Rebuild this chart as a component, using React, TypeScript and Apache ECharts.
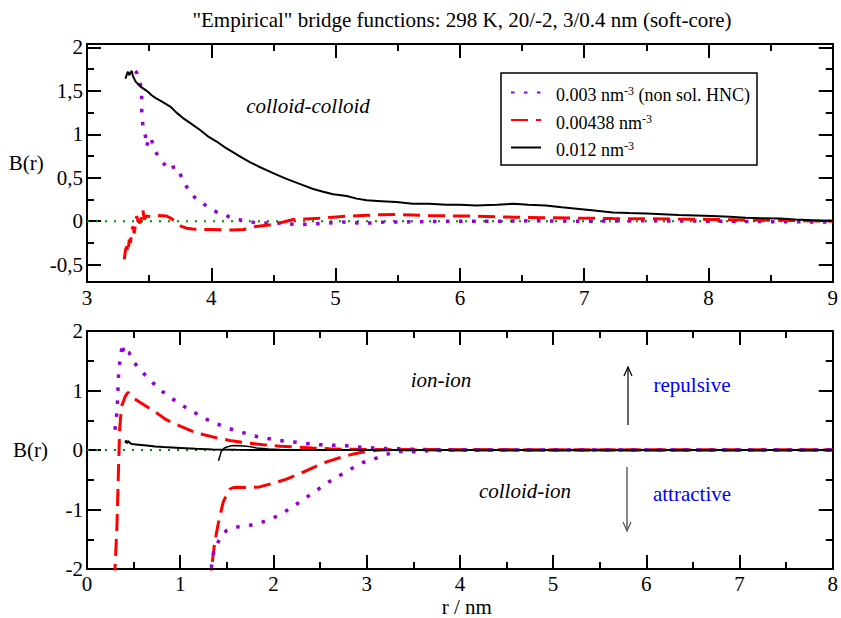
import React, { useEffect, useRef } from 'react';
import * as echarts from 'echarts';

const FONT = "'Liberation Serif', 'Times New Roman', serif";

const titleText = '"Empirical" bridge functions: 298 K, 20/-2, 3/0.4 nm (soft-core)';
const legendNames = ['0.003 nm-3 (non sol. HNC)', '0.00438 nm-3', '0.012 nm-3'];
const topYMajor = [-0.5, 0, 0.5, 1, 1.5, 2];
const topYMinor = [-0.25, 0.25, 0.75, 1.25, 1.75];

// reference line B(r) = 0
const zeroTop: [number, number][] = [[3, 0], [9, 0]];
const zeroBottom: [number, number][] = [[0, 0], [8, 0]];

// colloid-colloid, 0.003 nm^-3
const cc003: [number, number][] = [
  [3.39, 1.73], [3.40, 1.71], [3.42, 1.62], [3.43, 1.57], [3.44, 1.48], [3.44, 1.28], [3.45, 1.09],
  [3.47, 0.98], [3.48, 0.86], [3.50, 0.97], [3.52, 0.94], [3.53, 0.86], [3.56, 0.78], [3.59, 0.71],
  [3.62, 0.66], [3.65, 0.59], [3.69, 0.62], [3.72, 0.63], [3.75, 0.54], [3.77, 0.48], [3.80, 0.40],
  [3.83, 0.33], [3.87, 0.27], [3.91, 0.22], [3.97, 0.17], [4.01, 0.13], [4.05, 0.10], [4.08, 0.09],
  [4.12, 0.065], [4.16, 0.04], [4.20, 0.02], [4.30, 0.0], [4.39, -0.03], [4.49, -0.015], [4.60, -0.03],
  [4.71, -0.04], [4.83, -0.03], [4.95, -0.02], [5.06, -0.01], [5.18, -0.02], [5.30, -0.02], [5.40, -0.01],
  [5.51, -0.01], [5.70, -0.005], [6.0, 0.0], [6.3, 0.0], [6.6, 0.005], [7.0, 0.0], [7.5, 0.005],
  [8.0, 0.0], [8.5, -0.005], [9.0, -0.01],
];

// colloid-colloid, 0.00438 nm^-3
const cc00438: [number, number][] = [
  [3.30, -0.44], [3.31, -0.33], [3.32, -0.29], [3.33, -0.36], [3.34, -0.21], [3.35, -0.25], [3.36, -0.10],
  [3.37, -0.06], [3.38, -0.14], [3.40, 0.06], [3.41, 0.0], [3.43, -0.02], [3.44, 0.10], [3.45, 0.13],
  [3.46, 0.02], [3.48, 0.06], [3.52, 0.05], [3.57, 0.065], [3.64, 0.06], [3.68, 0.03], [3.72, -0.02],
  [3.76, -0.06], [3.80, -0.08], [3.85, -0.09], [3.91, -0.095], [4.01, -0.095], [4.10, -0.10], [4.17, -0.10],
  [4.26, -0.095], [4.36, -0.06], [4.49, -0.04], [4.58, -0.01], [4.66, 0.02], [4.76, 0.025], [4.87, 0.035],
  [4.98, 0.046], [5.10, 0.058], [5.25, 0.068], [5.37, 0.075], [5.49, 0.077], [5.62, 0.072], [5.75, 0.065],
  [5.95, 0.06], [6.13, 0.058], [6.43, 0.046], [6.70, 0.04], [6.96, 0.035], [7.23, 0.03], [7.50, 0.028],
  [7.76, 0.024], [8.03, 0.02], [8.30, 0.015], [8.57, 0.01], [8.80, 0.005], [9.0, 0.0],
];

// colloid-colloid, 0.012 nm^-3
const cc012: [number, number][] = [
  [3.31, 1.64], [3.32, 1.69], [3.33, 1.72], [3.34, 1.68], [3.35, 1.71], [3.36, 1.73], [3.37, 1.67],
  [3.39, 1.61], [3.41, 1.58], [3.43, 1.55], [3.46, 1.52], [3.49, 1.49], [3.52, 1.45], [3.55, 1.42],
  [3.60, 1.38], [3.67, 1.32], [3.72, 1.25], [3.77, 1.19], [3.84, 1.12], [3.91, 1.05], [3.97, 0.98],
  [4.04, 0.92], [4.11, 0.85], [4.18, 0.79], [4.25, 0.73], [4.31, 0.68], [4.38, 0.63], [4.44, 0.59],
  [4.52, 0.54], [4.60, 0.49], [4.71, 0.43], [4.82, 0.37], [4.90, 0.34], [4.98, 0.31], [5.09, 0.29],
  [5.17, 0.26], [5.25, 0.24], [5.37, 0.23], [5.49, 0.22], [5.62, 0.20], [5.75, 0.20], [5.89, 0.19],
  [6.00, 0.19], [6.13, 0.18], [6.30, 0.19], [6.43, 0.20], [6.55, 0.19], [6.69, 0.18], [6.82, 0.16],
  [6.96, 0.14], [7.10, 0.12], [7.23, 0.10], [7.36, 0.095], [7.50, 0.09], [7.63, 0.08], [7.76, 0.07],
  [7.90, 0.065], [8.03, 0.06], [8.17, 0.05], [8.30, 0.04], [8.43, 0.035], [8.57, 0.03], [8.70, 0.02],
  [8.83, 0.012], [9.0, 0.005],
];

// ion-ion
const ii003: [number, number][] = [
  [0.30, 0.34], [0.32, 0.62], [0.33, 0.90], [0.335, 1.18], [0.35, 1.46], [0.37, 1.68], [0.38, 1.79],
  [0.39, 1.66], [0.41, 1.72], [0.43, 1.66], [0.45, 1.64], [0.50, 1.48], [0.58, 1.33], [0.67, 1.19],
  [0.77, 1.03], [0.88, 0.90], [1.0, 0.77], [1.13, 0.65], [1.25, 0.54], [1.37, 0.455], [1.50, 0.37],
  [1.64, 0.31], [1.78, 0.24], [1.91, 0.20], [2.06, 0.16], [2.19, 0.14], [2.35, 0.11], [2.49, 0.09],
  [2.64, 0.08], [2.78, 0.07], [2.92, 0.05], [3.07, 0.035], [3.21, 0.025], [3.35, 0.02], [3.50, 0.012],
  [3.70, 0.005], [4.0, 0.0], [5.0, 0.0], [6.0, 0.0], [7.0, 0.0], [8.0, 0.0],
];
const ii00438: [number, number][] = [
  [0.295, -2.2], [0.30, -2.0], [0.32, -1.33], [0.335, -0.49], [0.35, 0.34], [0.37, 0.73], [0.41, 0.90],
  [0.44, 0.97], [0.50, 0.87], [0.57, 0.80], [0.64, 0.73], [0.75, 0.62], [0.85, 0.51], [1.0, 0.40],
  [1.17, 0.29], [1.35, 0.22], [1.53, 0.16], [1.71, 0.12], [1.89, 0.09], [2.07, 0.064], [2.25, 0.05],
  [2.42, 0.035], [2.60, 0.02], [2.80, 0.012], [3.0, 0.008], [3.3, 0.004], [3.6, 0.0], [5.0, 0.0],
  [6.0, 0.0], [7.0, 0.0], [8.0, 0.0],
];
const ii012: [number, number][] = [
  [0.41, 0.12], [0.42, 0.16], [0.43, 0.11], [0.44, 0.15], [0.46, 0.12], [0.48, 0.10], [0.55, 0.09],
  [0.64, 0.075], [0.73, 0.06], [0.82, 0.05], [1.0, 0.035], [1.17, 0.02], [1.35, 0.008], [1.6, 0.003],
  [2.0, 0.0], [8.0, 0.0],
];

// colloid-ion
const ci003: [number, number][] = [
  [1.33, -2.2], [1.335, -1.97], [1.35, -1.78], [1.37, -1.64], [1.39, -1.61], [1.42, -1.50], [1.46, -1.41],
  [1.50, -1.35], [1.57, -1.30], [1.71, -1.28], [1.85, -1.23], [1.99, -1.15], [2.11, -1.05], [2.23, -0.93],
  [2.35, -0.80], [2.48, -0.66], [2.59, -0.54], [2.73, -0.41], [2.84, -0.31], [2.96, -0.21], [3.08, -0.15],
  [3.21, -0.075], [3.33, -0.02], [3.44, -0.04], [3.57, -0.02], [3.70, -0.01], [4.0, 0.0], [5.0, 0.0],
  [6.0, 0.0], [7.0, 0.0], [8.0, 0.0],
];
const ci00438: [number, number][] = [
  [1.325, -2.3], [1.335, -2.0], [1.37, -1.55], [1.41, -1.22], [1.46, -0.88], [1.50, -0.74], [1.53, -0.66],
  [1.57, -0.63], [1.60, -0.625], [1.71, -0.63], [1.85, -0.62], [1.92, -0.59], [2.0, -0.56], [2.14, -0.49],
  [2.28, -0.40], [2.42, -0.30], [2.57, -0.20], [2.71, -0.13], [2.85, -0.07], [2.92, -0.045], [3.03, -0.02],
  [3.14, 0.0], [3.5, 0.01], [4.0, 0.005], [5.0, 0.0], [6.0, 0.0], [7.0, 0.0], [8.0, 0.0],
];
const ci012: [number, number][] = [
  [1.41, -0.18], [1.43, -0.08], [1.44, -0.02], [1.47, 0.03], [1.50, 0.05], [1.55, 0.07], [1.60, 0.075],
  [1.71, 0.065], [1.82, 0.035], [1.95, 0.015], [2.07, 0.008], [2.5, 0.002], [3.0, 0.0], [8.0, 0.0],
];

const PURPLE = '#9400D3';
const RED = '#FF0000';
const BLACK = '#000000';
const GREEN = '#008B00';

const purpleStyle = { color: PURPLE, width: 3.5, type: [3.5, 9.5] as number[] };
const redStyle = { color: RED, width: 3, type: [17, 8] as number[] };
const blackStyle = { color: BLACK, width: 2, type: 'solid' };
const greenStyle = { color: GREEN, width: 2, type: [2, 7] as number[] };

const frameLine = { show: true, onZero: false, lineStyle: { color: '#000', width: 2 } };
const tickStyle = { color: '#000', width: 2 };
const labelFont = { fontFamily: FONT, fontSize: 21, color: '#000' };

function xAx(grid: number, min: number, max: number, position: string, showLabel: boolean, extra: any = {}) {
  return {
    type: 'value', gridIndex: grid, min, max, interval: 1, position,
    axisLine: frameLine,
    axisTick: { show: true, inside: true, length: 14, lineStyle: tickStyle },
    minorTick: { show: true, splitNumber: 2, length: 7, lineStyle: tickStyle },
    splitLine: { show: false }, minorSplitLine: { show: false },
    axisLabel: { show: showLabel, ...labelFont, margin: grid === 0 ? 5 : 4 },
    ...extra,
  };
}

const yName = (shift: number) => ({
  name: 'B(r)', nameLocation: 'middle', nameRotate: 0, nameGap: 39,
  nameTextStyle: { ...labelFont, padding: [shift, 0, 0, 0] },
});

const textStyle = (text: string, fill: string, italic: boolean) => ({
  text, fill, font: `${italic ? 'italic ' : ''}21px ${FONT}`,
  align: 'center', verticalAlign: 'middle', textAlign: 'center', textVerticalAlign: 'middle',
});

function makeOption(): any {
  const line = (name: string, data: [number, number][], style: any, xi: number, yi: number) => ({
    type: 'line', name, data, xAxisIndex: xi, yAxisIndex: yi, symbol: 'none', showSymbol: false,
    lineStyle: style, itemStyle: { color: style.color }, clip: true, silent: true,
  });
  return {
    animation: false,
    backgroundColor: '#ffffff',
    title: {
      text: titleText, left: 462, top: 9, textAlign: 'center', padding: 0,
      textStyle: { fontFamily: FONT, fontSize: 21, lineHeight: 21, fontWeight: 'normal', color: '#000' },
    },
    legend: {
      data: legendNames, orient: 'vertical', left: 501, top: 73,
      backgroundColor: '#fff', borderColor: '#000', borderWidth: 1.5, borderRadius: 0,
      padding: [7, 7, 5, 9], itemWidth: 30, itemHeight: 14, itemGap: 2.5, selectedMode: false,
      itemStyle: { opacity: 0 },
      textStyle: {
        fontFamily: FONT, fontSize: 18, lineHeight: 20, color: '#000', padding: [5, 0, 0, 10],
        rich: { sup: { fontFamily: FONT, fontSize: 12, lineHeight: 12, verticalAlign: 'top', color: '#000' } },
      },
      formatter: (n: string) => n.replace('nm-3', 'nm{sup|-3}'),
    },
    grid: [
      { left: 87, top: 44, width: 747, height: 238, containLabel: false },
      { left: 87, top: 331, width: 747, height: 239, containLabel: false },
    ],
    xAxis: [
      xAx(0, 3, 9, 'bottom', true),
      xAx(0, 3, 9, 'top', false),
      xAx(1, 0, 8, 'bottom', true, {
        name: 'r / nm', nameLocation: 'middle', nameGap: 27,
        nameTextStyle: { ...labelFont, padding: [0, 0, 0, 14] },
      }),
      xAx(1, 0, 8, 'top', false),
    ],
    yAxis: [
      {
        type: 'value', gridIndex: 0, min: -0.7, max: 2.04, position: 'left',
        axisLine: frameLine,
        axisTick: { show: true, inside: true, length: 14, lineStyle: tickStyle, customValues: topYMajor },
        axisLabel: { ...labelFont, margin: 4, customValues: topYMajor, formatter: (v: number) => String(v).replace('.', ',') },
        splitLine: { show: false },
        ...yName(10),
      },
      {
        type: 'value', gridIndex: 0, min: -0.7, max: 2.04, position: 'left',
        axisLine: frameLine,
        axisTick: { show: true, inside: true, length: 7, lineStyle: tickStyle, customValues: topYMinor },
        axisLabel: { show: false }, splitLine: { show: false },
      },
      {
        type: 'value', gridIndex: 0, min: -0.7, max: 2.04, position: 'right',
        axisLine: frameLine,
        axisTick: { show: true, inside: true, length: 14, lineStyle: tickStyle, customValues: topYMajor },
        axisLabel: { show: false }, splitLine: { show: false },
      },
      {
        type: 'value', gridIndex: 0, min: -0.7, max: 2.04, position: 'right',
        axisLine: frameLine,
        axisTick: { show: true, inside: true, length: 7, lineStyle: tickStyle, customValues: topYMinor },
        axisLabel: { show: false }, splitLine: { show: false },
      },
      {
        type: 'value', gridIndex: 1, min: -2, max: 2, interval: 1, position: 'left',
        axisLine: frameLine,
        axisTick: { show: true, inside: true, length: 14, lineStyle: tickStyle },
        minorTick: { show: true, splitNumber: 2, length: 7, lineStyle: tickStyle },
        axisLabel: { ...labelFont, margin: 4 },
        splitLine: { show: false }, minorSplitLine: { show: false },
        ...yName(0),
      },
      {
        type: 'value', gridIndex: 1, min: -2, max: 2, interval: 1, position: 'right',
        axisLine: frameLine,
        axisTick: { show: true, inside: true, length: 14, lineStyle: tickStyle },
        minorTick: { show: true, splitNumber: 2, length: 7, lineStyle: tickStyle },
        axisLabel: { show: false },
        splitLine: { show: false }, minorSplitLine: { show: false },
      },
    ],
    series: [
      line('zero-top', zeroTop, greenStyle, 0, 0),
      line(legendNames[0], cc003, purpleStyle, 0, 0),
      line(legendNames[1], cc00438, redStyle, 0, 0),
      line(legendNames[2], cc012, blackStyle, 0, 0),
      line('zero-bottom', zeroBottom, greenStyle, 2, 4),
      line(legendNames[1], ii00438, redStyle, 2, 4),
      line(legendNames[1], ci00438, redStyle, 2, 4),
      line(legendNames[0], ii003, purpleStyle, 2, 4),
      line(legendNames[0], ci003, purpleStyle, 2, 4),
      line(legendNames[2], ii012, blackStyle, 2, 4),
      line(legendNames[2], ci012, { ...blackStyle, width: 1.5 }, 2, 4),
    ],
    graphic: [
      { type: 'text', x: 308, y: 106, style: textStyle('colloid-colloid', '#000', true) },
      { type: 'text', x: 441, y: 380, style: textStyle('ion-ion', '#000', true) },
      { type: 'text', x: 525, y: 491, style: textStyle('colloid-ion', '#000', true) },
      { type: 'text', x: 692, y: 385, style: textStyle('repulsive', '#0000FF', false) },
      { type: 'text', x: 692, y: 494, style: textStyle('attractive', '#0000FF', false) },
      { type: 'line', shape: { x1: 628, y1: 425, x2: 628, y2: 367 }, style: { stroke: '#000', lineWidth: 1.2 } },
      { type: 'polyline', shape: { points: [[624, 376], [628, 367], [632, 376]] }, style: { stroke: '#000', lineWidth: 1.2, fill: 'none' } },
      { type: 'line', shape: { x1: 627, y1: 467, x2: 627, y2: 531 }, style: { stroke: '#555', lineWidth: 1.4 } },
      { type: 'polyline', shape: { points: [[623, 522], [627, 531], [631, 522]] }, style: { stroke: '#555', lineWidth: 1.2, fill: 'none' } },
    ],
  };
}

export default function App() {
  const ref = useRef<HTMLDivElement>(null);
  useEffect(() => {
    if (!ref.current) return;
    const chart = echarts.init(ref.current, undefined, { renderer: 'svg' });
    chart.setOption(makeOption());
    return () => chart.dispose();
  }, []);
  return (
    <div
      ref={ref}
      style={{ position: 'absolute', left: 0, top: 0, width: 841, height: 618, background: '#fff' }}
    />
  );
}
